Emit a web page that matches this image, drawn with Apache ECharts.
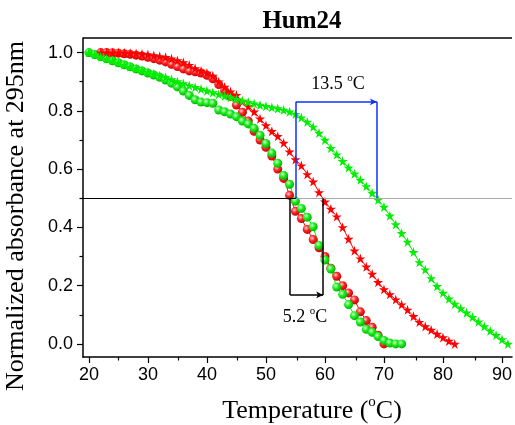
<!DOCTYPE html>
<html>
<head>
<meta charset="utf-8">
<script src="https://cdn.jsdelivr.net/npm/echarts@6/dist/echarts.min.js"></script>
<style>
  html, body { margin: 0; padding: 0; background: #fff; }
  #chart { width: 515px; height: 425px; }
</style>
</head>
<body>
<div id="chart"></div>
<script>
// axis ticks
const xTicks = [20, 30, 40, 50, 60, 70, 80, 90];
const xMinorTicks = [25, 35, 45, 55, 65, 75, 85];
const yTicks = [0, 0.2, 0.4, 0.6, 0.8, 1.0];
const yMinorTicks = [0.1, 0.3, 0.5, 0.7, 0.9];

// red circles
const redCircleT = [22, 23, 24, 25, 26, 27, 28, 29, 30, 31, 32, 33, 34, 35, 36, 37, 38, 39, 40, 41,
  42, 43, 44, 45, 46, 47, 48, 49, 50, 51, 52, 53, 54, 55, 56, 57, 58, 59, 60, 61,
  62, 63, 64, 65, 66, 67, 68, 69, 70];
const redCircleA = [1.0, 1.0, 0.999, 0.998, 0.996, 0.994, 0.991, 0.988, 0.984, 0.979, 0.974, 0.968, 0.96, 0.952, 0.944, 0.937, 0.934, 0.93, 0.922, 0.91,
  0.89, 0.869, 0.85, 0.82, 0.795, 0.765, 0.73, 0.70, 0.675, 0.645, 0.60, 0.568, 0.51, 0.455, 0.43, 0.393, 0.358, 0.33, 0.30, 0.26,
  0.232, 0.20, 0.175, 0.151, 0.11, 0.08, 0.057, 0.03, 0.0];

// red stars
const redStarT = [22, 23, 24, 25, 26, 27, 28, 29, 30, 31, 32, 33, 34, 35, 36, 37, 38, 39, 40, 41,
  42, 43, 44, 45, 46, 47, 48, 49, 50, 51, 52, 53, 54, 55, 56, 57, 58, 59, 60, 61,
  62, 63, 64, 65, 66, 67, 68, 69, 70, 71, 72, 73, 74, 75, 76, 77, 78, 79, 80, 81, 82];
const redStarA = [1.0, 1.0, 1.0, 1.0, 0.999, 0.998, 0.997, 0.995, 0.993, 0.99, 0.987, 0.984, 0.979, 0.973, 0.966, 0.957, 0.946, 0.937, 0.93, 0.92,
  0.90, 0.882, 0.866, 0.854, 0.832, 0.815, 0.797, 0.773, 0.75, 0.73, 0.713, 0.69, 0.66, 0.633, 0.612, 0.582, 0.557, 0.52, 0.488, 0.463,
  0.437, 0.40, 0.36, 0.32, 0.293, 0.265, 0.24, 0.212, 0.187, 0.17, 0.152, 0.135, 0.117, 0.095, 0.075, 0.06, 0.048, 0.034, 0.022, 0.01, 0.0];

// green circles
const greenCircleT = [20, 21, 22, 23, 24, 25, 26, 27, 28, 29, 30, 31, 32, 33, 34, 35, 36, 37, 38, 39,
  40, 41, 42, 43, 44, 45, 46, 47, 48, 49, 50, 51, 52, 53, 54, 55, 56, 57, 58, 59,
  60, 61, 62, 63, 64, 65, 66, 67, 68, 69, 70, 71, 72, 73];
const greenCircleA = [1.0, 0.993, 0.986, 0.979, 0.972, 0.965, 0.958, 0.951, 0.944, 0.937, 0.93, 0.923, 0.915, 0.906, 0.895, 0.882, 0.868, 0.853, 0.838, 0.83,
  0.828, 0.826, 0.803, 0.797, 0.789, 0.78, 0.765, 0.755, 0.74, 0.716, 0.688, 0.655, 0.62, 0.578, 0.548, 0.49, 0.465, 0.435, 0.402, 0.338,
  0.288, 0.257, 0.195, 0.17, 0.135, 0.097, 0.075, 0.05, 0.04, 0.025, 0.012, 0.003, 0.0, 0.0];

// green stars
const greenStarT = [20, 21, 22, 23, 24, 25, 26, 27, 28, 29, 30, 31, 32, 33, 34, 35, 36, 37, 38, 39,
  40, 41, 42, 43, 44, 45, 46, 47, 48, 49, 50, 51, 52, 53, 54, 55, 56, 57, 58, 59,
  60, 61, 62, 63, 64, 65, 66, 67, 68, 69, 70, 71, 72, 73, 74, 75, 76, 77, 78, 79,
  80, 81, 82, 83, 84, 85, 86, 87, 88, 89, 90, 91];
const greenStarA = [1.0, 0.993, 0.986, 0.979, 0.972, 0.965, 0.958, 0.951, 0.945, 0.939, 0.933, 0.927, 0.921, 0.915, 0.908, 0.901, 0.894, 0.887, 0.881, 0.875,
  0.869, 0.863, 0.857, 0.851, 0.846, 0.84, 0.835, 0.83, 0.825, 0.82, 0.816, 0.812, 0.808, 0.803, 0.797, 0.789, 0.777, 0.762, 0.745, 0.724,
  0.70, 0.672, 0.65, 0.627, 0.605, 0.584, 0.563, 0.541, 0.518, 0.495, 0.47, 0.44, 0.41, 0.38, 0.35, 0.315, 0.28, 0.255, 0.225, 0.198,
  0.175, 0.155, 0.137, 0.122, 0.107, 0.092, 0.076, 0.06, 0.045, 0.03, 0.015, 0.0];

// annotation values
const halfLevel = 0.5;
const halfSplitT = 55.1;
const blackBracketT = [54.1, 59.7];
const blackBracketFoot = 0.168;
const blueBracketT = [55.1, 68.8];
const blueBracketTop = 0.831;

const X_MIN = 19, X_MAX = 91.7, Y_MIN = -0.045, Y_MAX = 1.05;

const serifName = 'Liberation Serif';
const serif = "'Liberation Serif', 'Times New Roman', serif";
const sans = "'Liberation Sans', Arial, sans-serif";

const pair = (t, a) => t.map((x, i) => [x, a[i]]);

const ball = (light, mid, dark) => ({
  type: 'radial', x: 0.38, y: 0.35, r: 0.65,
  colorStops: [
    { offset: 0, color: light },
    { offset: 0.45, color: mid },
    { offset: 1, color: dark }
  ]
});

const RED = '#ff0000';
const GREEN = '#00ee00';
const STAR = 'path://M50,0 L61,35 L98,35 L68,57 L79,91 L50,70 L21,91 L32,57 L2,35 L39,35 Z';

function curve(name, data, color, symbol, size, fill) {
  return {
    name: name,
    type: 'line',
    data: data,
    symbol: symbol,
    symbolSize: size,
    showAllSymbol: true,
    lineStyle: { color: color, width: 1 },
    itemStyle: { color: fill || color, borderWidth: 0 },
    emphasis: { disabled: true },
    animation: false
  };
}

function segs(list, color, width) {
  return {
    type: 'line',
    data: [],
    silent: true,
    markLine: {
      silent: true,
      animation: false,
      symbol: ['none', 'none'],
      label: { show: false },
      emphasis: { disabled: true },
      lineStyle: { color: color, width: width, type: 'solid' },
      data: list
    }
  };
}

const seg = (a, b, arrow) => [
  { coord: a, symbol: 'none' },
  { coord: b, symbol: arrow ? 'arrow' : 'none', symbolSize: [5, 7] }
];

// text with a small raised "o" (three pieces, measured so the whole is centred)
const measureCtx = document.createElement('canvas').getContext('2d');
function textWidth(str, size) {
  measureCtx.font = size + "px '" + serifName + "'";
  return measureCtx.measureText(str).width;
}
function supText(cx, cy, before, after, size, supSize) {
  const w1 = textWidth(before, size);
  const w2 = textWidth('o', supSize);
  const w3 = textWidth(after, size);
  const x0 = cx - (w1 + w2 + w3) / 2;
  const supY = cy - 0.45 * size + 0.16 * supSize;
  const piece = (x, y, str, fs) => ({
    type: 'text', x: x, y: y, silent: true,
    style: { text: str, fill: '#000', font: fs + 'px ' + serif, textAlign: 'left', textVerticalAlign: 'middle' }
  });
  return [
    piece(x0, cy, before, size),
    piece(x0 + w1, supY, 'o', supSize),
    piece(x0 + w1 + w2, cy, after, size)
  ];
}

const myChart = echarts.init(document.getElementById('chart'));

const gridBox = { left: 83, right: 0, top: 38, bottom: 68, containLabel: false };
const tickLine = { color: '#000', width: 1.2 };

myChart.setOption({
  backgroundColor: '#fff',
  grid: [gridBox, Object.assign({}, gridBox)],
  xAxis: [
    {
      type: 'value', gridIndex: 0, min: X_MIN, max: X_MAX, position: 'bottom',
      splitLine: { show: false },
      axisLine: { show: true, onZero: false, lineStyle: { color: '#000', width: 1.5 } },
      axisTick: { show: true, customValues: xTicks, length: 6, lineStyle: tickLine },
      axisLabel: { show: true, customValues: xTicks, color: '#000', fontSize: 18, fontFamily: sans, margin: 9 }
    },
    {
      type: 'value', gridIndex: 1, min: X_MIN, max: X_MAX, position: 'bottom',
      splitLine: { show: false },
      axisLine: { show: false, onZero: false },
      axisTick: { show: true, customValues: xMinorTicks, length: 3.5, lineStyle: tickLine },
      axisLabel: { show: false }
    }
  ],
  yAxis: [
    {
      type: 'value', gridIndex: 0, min: Y_MIN, max: Y_MAX, position: 'left',
      splitLine: { show: false },
      axisLine: { show: true, onZero: false, lineStyle: { color: '#000', width: 1.5 } },
      axisTick: { show: true, customValues: yTicks, length: 6, lineStyle: tickLine },
      axisLabel: {
        show: true, customValues: yTicks, color: '#000', fontSize: 18, fontFamily: sans, margin: 10,
        formatter: (v) => v.toFixed(1)
      }
    },
    {
      type: 'value', gridIndex: 1, min: Y_MIN, max: Y_MAX, position: 'left',
      splitLine: { show: false },
      axisLine: { show: false, onZero: false },
      axisTick: { show: true, customValues: yMinorTicks, length: 3.5, lineStyle: tickLine },
      axisLabel: { show: false }
    }
  ],
  series: [
    // top frame line
    segs([seg([X_MIN, Y_MAX], [X_MAX, Y_MAX])], '#000', 1.5),
    segs([seg([X_MIN, halfLevel], [halfSplitT, halfLevel])], '#000', 1),
    segs([seg([halfSplitT, halfLevel], [X_MAX, halfLevel])], '#a8a8a8', 1.2),
    curve('Red circle', pair(redCircleT, redCircleA), RED, 'circle', 9, ball('#ffd6d6', '#ff2a2a', '#c80000')),
    curve('Green circle', pair(greenCircleT, greenCircleA), GREEN, 'circle', 9, ball('#d8ffd8', '#22f022', '#00b400')),
    curve('Red star', pair(redStarT, redStarA), RED, STAR, 10),
    curve('Green star', pair(greenStarT, greenStarA), GREEN, STAR, 10),
    segs([
      seg([blackBracketT[0], halfLevel], [blackBracketT[0], blackBracketFoot]),
      seg([blackBracketT[0], blackBracketFoot], [blackBracketT[1], blackBracketFoot], true),
      seg([blackBracketT[1], blackBracketFoot], [blackBracketT[1], halfLevel])
    ], '#000', 1.5),
    segs([
      seg([blueBracketT[0], halfLevel], [blueBracketT[0], blueBracketTop]),
      seg([blueBracketT[0], blueBracketTop], [blueBracketT[1], blueBracketTop], true),
      seg([blueBracketT[1], blueBracketTop], [blueBracketT[1], halfLevel])
    ], '#1030ff', 1.5)
  ],
  graphic: [
    {
      type: 'text', x: 302, y: 22,
      style: { text: 'Hum24', fill: '#000', font: 'bold 25px ' + serif, textAlign: 'center', textVerticalAlign: 'middle' }
    },
    {
      type: 'text', x: 16, y: 216, rotation: Math.PI / 2,
      style: { text: 'Normalized absorbance at 295nm', fill: '#000', font: '26px ' + serif, textAlign: 'center', textVerticalAlign: 'middle' }
    }
  ]
    .concat(supText(312, 411, 'Temperature (', 'C)', 26, 15))
    .concat(supText(338, 84, '13.5 ', 'C', 18, 11))
    .concat(supText(305, 317, '5.2 ', 'C', 18, 11))
});
</script>
</body>
</html>
